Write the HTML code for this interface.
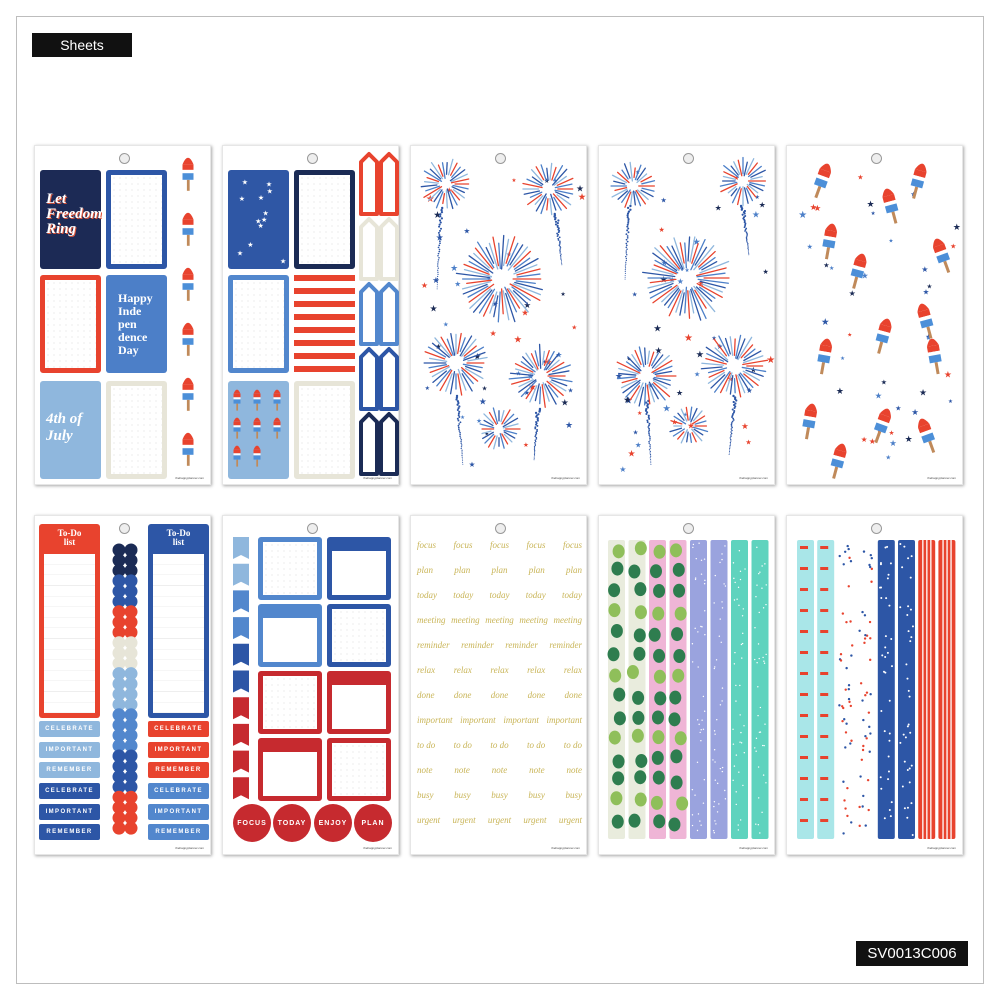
<!DOCTYPE html>
<html><head><meta charset="utf-8"><style>
*{margin:0;padding:0;box-sizing:border-box}
body{width:1000px;height:1000px;background:#fff;position:relative;overflow:hidden;font-family:"Liberation Sans",sans-serif}
.a{position:absolute}
.frame{left:16px;top:16px;width:968px;height:968px;border:1px solid #bdbdbd}
.lab{background:#111;color:#fff;font-size:14px;display:flex;align-items:center;justify-content:center}
.sheet{position:absolute;width:177px;height:340px;background:#fff;box-shadow:1px 1px 3px rgba(0,0,0,.35);border:1px solid #e6e6e6}
.hole{position:absolute;left:84px;top:7px;width:11px;height:11px;border-radius:50%;border:1.5px solid #999;background:#eee}
.dotbox{background-color:#fff;background-image:radial-gradient(#ddd 0.6px,transparent 0.8px);background-size:6px 6px}
.tag{position:absolute;height:16px;border-radius:2px;color:#fff;font-size:6px;font-weight:bold;letter-spacing:1.4px;display:flex;align-items:center;justify-content:center}
.words{position:absolute;left:6px;top:24px;width:165px;font-family:"Liberation Serif",serif;font-style:italic;color:#c9b558;font-size:9px}
.words div{display:flex;justify-content:space-between;height:25px}
.circ{position:absolute;width:38px;height:38px;border-radius:50%;background:#c62a2f;color:#fff;font-size:7px;font-weight:bold;letter-spacing:1px;display:flex;align-items:center;justify-content:center}
.foot{position:absolute;right:6px;bottom:4px;font-size:3px;color:#444}
</style></head><body>
<div class="a frame"></div>
<div class="a lab" style="left:32px;top:33px;width:100px;height:24px">Sheets</div>
<div class="a lab" style="left:856px;top:941px;width:112px;height:25px;font-size:15px">SV0013C006</div>

<div id="s1" class="sheet" style="left:34px;top:145px"><div class="hole"></div>
<div class="a" style="left:5px;top:24px;width:61px;height:99px;background:#1c2a55;border-radius:3px;color:#fff;font-family:'Liberation Serif',serif;font-style:italic;font-weight:bold;font-size:15px;line-height:15px;padding:22px 6px;text-shadow:1px 1px 0 #e0563a">Let<br>Freedom<br>Ring</div>
<div class="a dotbox" style="left:71px;top:24px;width:61px;height:99px;border:5px solid #2d56a6;border-radius:3px"></div>
<div class="a dotbox" style="left:5px;top:129px;width:61px;height:98px;border:5px solid #e8432e;border-radius:3px"></div>
<div class="a" style="left:71px;top:129px;width:61px;height:98px;background:#4c7fc8;border-radius:3px;color:#fff;font-family:'Liberation Serif',serif;font-weight:bold;font-size:12px;line-height:13px;padding:17px 4px 0 12px">Happy<br>Inde<br>pen<br>dence<br>Day</div>
<div class="a" style="left:5px;top:235px;width:61px;height:98px;background:#8fb7dd;border-radius:3px;color:#fff;font-family:'Liberation Serif',serif;font-style:italic;font-weight:bold;font-size:15px;line-height:17px;padding:30px 6px">4th of<br>July</div>
<div class="a dotbox" style="left:71px;top:235px;width:61px;height:98px;border:5px solid #e7e5d8;border-radius:3px"></div>
<div class="foot">thehappyplanner.com</div></div>

<div id="s2" class="sheet" style="left:222px;top:145px"><div class="hole"></div>
<div class="a" style="left:5px;top:24px;width:61px;height:99px;background:#2f57a5;border-radius:3px"></div>
<div class="a dotbox" style="left:71px;top:24px;width:61px;height:99px;border:5px solid #1b2b55;border-radius:3px"></div>
<div class="a dotbox" style="left:5px;top:129px;width:61px;height:98px;border:5px solid #5287cd;border-radius:3px"></div>
<div class="a" style="left:71px;top:129px;width:61px;height:98px;background:repeating-linear-gradient(#e8432e 0 6px,#fff 6px 13px)"></div>
<div class="a" style="left:5px;top:235px;width:61px;height:98px;background:#8fb7dd;border-radius:3px"></div>
<div class="a dotbox" style="left:71px;top:235px;width:61px;height:98px;border:5px solid #e7e5d8;border-radius:3px"></div>
<div class="foot">thehappyplanner.com</div></div>

<div id="s3" class="sheet" style="left:410px;top:145px"><div class="hole"></div><div class="foot">thehappyplanner.com</div></div>
<div id="s4" class="sheet" style="left:598px;top:145px"><div class="hole"></div><div class="foot">thehappyplanner.com</div></div>
<div id="s5" class="sheet" style="left:786px;top:145px"><div class="hole"></div><div class="foot">thehappyplanner.com</div></div>

<div id="t1" class="sheet" style="left:34px;top:515px"><div class="hole"></div>
<div class="a" style="left:4px;top:8px;width:61px;height:194px;background:#e8432e;border-radius:3px"><div style="color:#fff;font-family:'Liberation Serif',serif;font-weight:bold;font-size:9px;text-align:center;line-height:9px;padding-top:5px">To-Do<br>list</div><div class="a" style="left:5px;top:30px;width:51px;height:159px;background:#fff;background-image:repeating-linear-gradient(#fff 0 10px,#eee 10px 10.6px)"></div></div>
<div class="a" style="left:113px;top:8px;width:61px;height:194px;background:#2d56a6;border-radius:3px"><div style="color:#fff;font-family:'Liberation Serif',serif;font-weight:bold;font-size:9px;text-align:center;line-height:9px;padding-top:5px">To-Do<br>list</div><div class="a" style="left:5px;top:30px;width:51px;height:159px;background:#fff;background-image:repeating-linear-gradient(#fff 0 10px,#eee 10px 10.6px)"></div></div>
<div class="tag" style="left:4px;top:205px;width:61px;background:#8fb7dd">CELEBRATE</div>
<div class="tag" style="left:4px;top:226px;width:61px;background:#8fb7dd">IMPORTANT</div>
<div class="tag" style="left:4px;top:246px;width:61px;background:#8fb7dd">REMEMBER</div>
<div class="tag" style="left:4px;top:267px;width:61px;background:#2d56a6">CELEBRATE</div>
<div class="tag" style="left:4px;top:288px;width:61px;background:#2d56a6">IMPORTANT</div>
<div class="tag" style="left:4px;top:308px;width:61px;background:#2d56a6">REMEMBER</div>
<div class="tag" style="left:113px;top:205px;width:61px;background:#e8432e">CELEBRATE</div>
<div class="tag" style="left:113px;top:226px;width:61px;background:#e8432e">IMPORTANT</div>
<div class="tag" style="left:113px;top:246px;width:61px;background:#e8432e">REMEMBER</div>
<div class="tag" style="left:113px;top:267px;width:61px;background:#5287cd">CELEBRATE</div>
<div class="tag" style="left:113px;top:288px;width:61px;background:#5287cd">IMPORTANT</div>
<div class="tag" style="left:113px;top:308px;width:61px;background:#5287cd">REMEMBER</div>
<div class="foot">thehappyplanner.com</div></div>

<div id="t2" class="sheet" style="left:222px;top:515px"><div class="hole"></div>
<div class="a dotbox" style="left:35px;top:21px;width:64px;height:63px;border:5px solid #5287cd;border-radius:3px"></div>
<div class="a" style="left:104px;top:21px;width:64px;height:63px;border:5px solid #2d56a6;border-top:14px solid #2d56a6;border-radius:3px;background:#fff"></div>
<div class="a" style="left:35px;top:88px;width:64px;height:63px;border:5px solid #5287cd;border-top:14px solid #5287cd;border-radius:3px;background:#fff"></div>
<div class="a dotbox" style="left:104px;top:88px;width:64px;height:63px;border:5px solid #2d56a6;border-radius:3px"></div>
<div class="a dotbox" style="left:35px;top:155px;width:64px;height:63px;border:5px solid #c62a2f;border-radius:3px"></div>
<div class="a" style="left:104px;top:155px;width:64px;height:63px;border:5px solid #c62a2f;border-top:14px solid #c62a2f;border-radius:3px;background:#fff"></div>
<div class="a" style="left:35px;top:222px;width:64px;height:63px;border:5px solid #c62a2f;border-top:14px solid #c62a2f;border-radius:3px;background:#fff"></div>
<div class="a dotbox" style="left:104px;top:222px;width:64px;height:63px;border:5px solid #c62a2f;border-radius:3px"></div>
<div class="circ" style="left:10px;top:288px">FOCUS</div>
<div class="circ" style="left:50px;top:288px">TODAY</div>
<div class="circ" style="left:91px;top:288px">ENJOY</div>
<div class="circ" style="left:131px;top:288px">PLAN</div>
<div class="foot">thehappyplanner.com</div></div>

<div class="sheet" style="left:410px;top:515px"><div class="hole"></div>
<div class="words">
<div><span>focus</span><span>focus</span><span>focus</span><span>focus</span><span>focus</span></div>
<div><span>plan</span><span>plan</span><span>plan</span><span>plan</span><span>plan</span></div>
<div><span>today</span><span>today</span><span>today</span><span>today</span><span>today</span></div>
<div><span>meeting</span><span>meeting</span><span>meeting</span><span>meeting</span><span>meeting</span></div>
<div><span>reminder</span><span>reminder</span><span>reminder</span><span>reminder</span></div>
<div><span>relax</span><span>relax</span><span>relax</span><span>relax</span><span>relax</span></div>
<div><span>done</span><span>done</span><span>done</span><span>done</span><span>done</span></div>
<div><span>important</span><span>important</span><span>important</span><span>important</span></div>
<div><span>to do</span><span>to do</span><span>to do</span><span>to do</span><span>to do</span></div>
<div><span>note</span><span>note</span><span>note</span><span>note</span><span>note</span></div>
<div><span>busy</span><span>busy</span><span>busy</span><span>busy</span><span>busy</span></div>
<div><span>urgent</span><span>urgent</span><span>urgent</span><span>urgent</span><span>urgent</span></div>
</div>
<div class="foot">thehappyplanner.com</div></div>

<div id="t4" class="sheet" style="left:598px;top:515px"><div class="hole"></div><div class="foot">thehappyplanner.com</div></div>
<div id="t5" class="sheet" style="left:786px;top:515px"><div class="hole"></div><div class="foot">thehappyplanner.com</div></div>

<script>
var NS="http://www.w3.org/2000/svg";
function svgIn(id){var s=document.createElementNS(NS,"svg");s.setAttribute("width",177);s.setAttribute("height",340);s.style.position="absolute";s.style.left="0";s.style.top="0";document.getElementById(id).appendChild(s);return s}
function el(s,t,a){var e=document.createElementNS(NS,t);for(var k in a)e.setAttribute(k,a[k]);s.appendChild(e);return e}
var seed=7;function R(){seed=(seed*9301+49297)%233280;return seed/233280}
function burst(s,cx,cy,r){var n=Math.round(r*1.1);var cols=["#e8432e","#4c7fc8","#2d56a6","#8fb7dd"];for(var i=0;i<n;i++){var a=i/n*6.283,r1=r*(0.2+0.2*R()),r2=r*(0.75+0.25*R());el(s,"line",{x1:cx+r1*Math.cos(a),y1:cy+r1*Math.sin(a),x2:cx+r2*Math.cos(a),y2:cy+r2*Math.sin(a),stroke:cols[i%4],"stroke-width":1.3,"stroke-linecap":"round"})}}
function trail(s,x1,y1,x2,y2){for(var i=0;i<40;i++){var t=i/40;el(s,"circle",{cx:x1+(x2-x1)*t+(R()-.5)*4*(1-t),cy:y1+(y2-y1)*t,r:1.2*(1-t*0.6),fill:"#2d56a6"})}}
function stars(s,n){var c=["#e8432e","#2d56a6","#4c7fc8","#1b2b55"];for(var i=0;i<n;i++){el(s,"text",{x:8+R()*160,y:25+R()*305,"font-size":5+R()*5,fill:c[i%4]}).textContent="★"}}
function pop(s,x,y,rot,sc){var g=el(s,"g",{transform:"translate("+x+","+y+") rotate("+rot+") scale("+(sc||1)+")"});el(g,"rect",{x:-1,y:18,width:2.5,height:10,fill:"#c08a5a"});el(g,"path",{d:"M-5 4 Q0 -8 5 4 Z",fill:"#e8432e"});el(g,"rect",{x:-5,y:4,width:10,height:5,fill:"#e8432e"});el(g,"rect",{x:-5,y:9,width:10,height:3,fill:"#fff"});el(g,"rect",{x:-5,y:12,width:10,height:6,fill:"#4c8fd8"})}
// sheet1 popsicles & fireworks dot
var s=svgIn("s1");for(var i=0;i<6;i++)pop(s,153,14+i*55,0,1.1);
s=svgIn("s2");
for(var i=0;i<12;i++)el(s,"text",{x:10+R()*50,y:34+R()*86,"font-size":7,fill:"#fff"}).textContent="★";
for(var i=0;i<8;i++)pop(s,14+(i%3)*20,245+Math.floor(i/3)*28,0,0.7);
var tc=["#e8432e","#e7e5d8","#5287cd","#2d56a6","#1b2b55"];
for(var r=0;r<5;r++)for(var c=0;c<2;c++){var x=138+c*20,y=8+r*65;el(s,"path",{d:"M"+x+" "+(y+8)+" L"+(x+8)+" "+y+" L"+(x+16)+" "+(y+8)+" L"+(x+16)+" "+(y+60)+" L"+x+" "+(y+60)+"Z",fill:"#fff",stroke:tc[r],"stroke-width":4,"stroke-linejoin":"round"})}
s=svgIn("s3");seed=11;stars(s,45);
trail(s,30,62,26,145);trail(s,145,68,151,120);trail(s,46,250,52,320);trail(s,127,263,123,315);
burst(s,35,38,26);burst(s,138,43,27);burst(s,90,133,45);burst(s,45,217,33);burst(s,130,230,32);burst(s,88,283,22);
s=svgIn("s4");seed=23;stars(s,45);
trail(s,30,60,26,135);trail(s,144,60,150,110);trail(s,48,255,52,320);trail(s,136,250,130,310);
burst(s,34,40,24);burst(s,144,35,25);burst(s,88,132,45);burst(s,47,230,32);burst(s,135,220,34);burst(s,90,280,20);
s=svgIn("s5");seed=5;stars(s,40);
var pp=[[40,20,20],[135,20,15],[100,45,-15],[45,80,10],[150,95,-20],[75,110,15],[135,160,-15],[40,195,10],[100,175,15],[145,195,-10],[25,260,10],[100,265,20],[135,275,-20],[55,300,15]];
pp.forEach(function(p){pop(s,p[0],p[1],p[2],1.2)});
s=svgIn("t1");var dc=["#1b2b55","#2d56a6","#e8432e","#e7e5d8","#8fb7dd","#5287cd","#2d56a6","#e8432e"];var dn=[3,3,3,3,4,4,4,4];var row=0;
dc.forEach(function(c,k){for(var j=0;j<dn[k];j++){el(s,"circle",{cx:84,cy:34+row*10.3,r:6.5,fill:c});el(s,"circle",{cx:96,cy:34+row*10.3,r:6.5,fill:c});row++}});
s=svgIn("t2");var fc=["#8fb7dd","#8fb7dd","#5287cd","#5287cd","#2d56a6","#2d56a6","#c62a2f","#c62a2f","#c62a2f","#c62a2f"];
fc.forEach(function(c,i){var x=10,y=21+i*26.7;el(s,"path",{d:"M"+x+" "+y+" h16 v22 l-8 -4 l-8 4z",fill:c})});
s=svgIn("t4");var bc=["#e9ecdd","#e9ecdd","#efb5d6","#efb5d6","#9aa3de","#9aa3de","#5fd3be","#5fd3be"];
bc.forEach(function(c,i){var x=9+i*20.5;el(s,"rect",{x:x,y:24,width:17,height:299,rx:2,fill:c});if(i<4){for(var k=0;k<14;k++)el(s,"ellipse",{cx:x+4+R()*9,cy:30+k*21+R()*6,rx:6,ry:7,fill:k%3?"#2e7d4f":"#8fbf5a"})}else{for(var k=0;k<40;k++)el(s,"circle",{cx:x+2+R()*13,cy:27+R()*293,r:.7,fill:"#fff"})}});
s=svgIn("t5");var ec=["#a9e6e8","#a9e6e8","#fff","#fff","#2d56a6","#2d56a6","#e8432e","#e8432e"];
ec.forEach(function(c,i){var x=10+i*20.2;el(s,"rect",{x:x,y:24,width:17,height:299,rx:2,fill:c});
if(c=="#e8432e"){for(var k=0;k<3;k++)el(s,"rect",{x:x+4+k*4,y:24,width:1.3,height:299,fill:"#fff"})}
else if(c=="#2d56a6"){for(var k=0;k<35;k++)el(s,"circle",{cx:x+2+R()*13,cy:27+R()*293,r:1,fill:"#fff"})}
else if(c=="#fff"){for(var k=0;k<40;k++)el(s,"circle",{cx:x+2+R()*13,cy:27+R()*293,r:1.2,fill:k%2?"#e8432e":"#2d56a6"})}
else{for(var k=0;k<14;k++)el(s,"rect",{x:x+3,y:30+k*21,width:8,height:3,fill:"#e8432e"})}});
</script>
</body></html>
